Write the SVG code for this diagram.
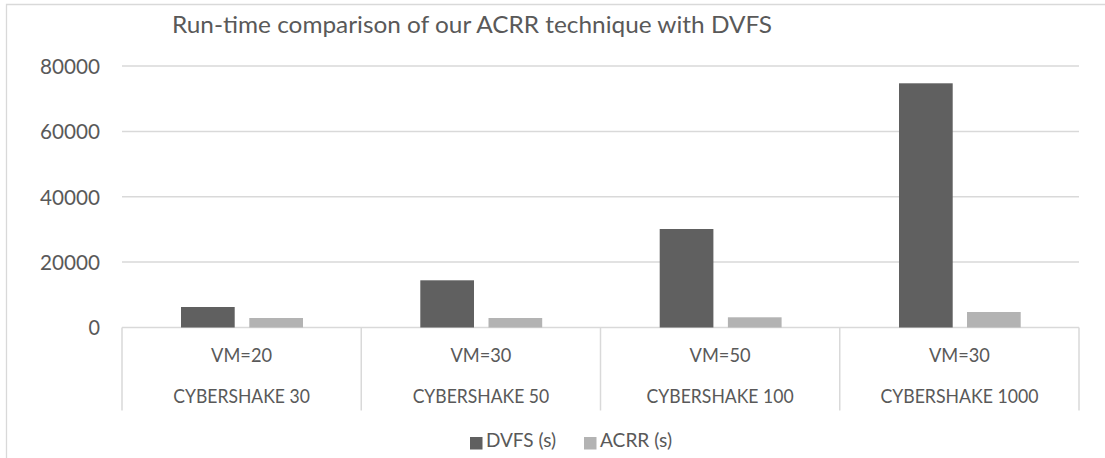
<svg xmlns="http://www.w3.org/2000/svg" width="1105" height="458" viewBox="0 0 1105 458">
  <style>
    .lbl { font-family: Lato, "Open Sans", "Liberation Sans", sans-serif; fill: #595959; }
    .title { font-size: 23px; }
    .ytick { font-size: 21px; text-anchor: end; }
    .xcat { font-size: 18.5px; text-anchor: middle; }
    .leg { font-size: 19px; }
    .grid { stroke: #d9d9d9; stroke-width: 1.5; fill: none; }
    .frame { stroke: #d9d9d9; stroke-width: 1.3; fill: none; }
    .dvfs { fill: #606060; }
    .acrr { fill: #b3b3b3; }
  </style>

  <rect x="0" y="0" width="1105" height="458" fill="#ffffff"/>
  <!-- chart area border (right and bottom edges fall outside the canvas) -->
  <path class="frame" d="M6.5 460 V4.5 H1110"/>

  <text class="lbl title" x="172" y="33" textLength="600" lengthAdjust="spacingAndGlyphs">Run-time comparison of our ACRR technique with DVFS</text>

  <!-- value axis gridlines -->
  <g id="gridlines">
    <line class="grid" x1="122" y1="66" x2="1079" y2="66"/>
    <line class="grid" x1="122" y1="131.4" x2="1079" y2="131.4"/>
    <line class="grid" x1="122" y1="196.75" x2="1079" y2="196.75"/>
    <line class="grid" x1="122" y1="262.1" x2="1079" y2="262.1"/>
    <line class="grid" x1="122" y1="327.5" x2="1079" y2="327.5"/>
  </g>

  <g id="y-axis">
    <text class="lbl ytick" x="100" y="74" textLength="60" lengthAdjust="spacingAndGlyphs">80000</text>
    <text class="lbl ytick" x="100" y="139" textLength="60" lengthAdjust="spacingAndGlyphs">60000</text>
    <text class="lbl ytick" x="100" y="204.5" textLength="60" lengthAdjust="spacingAndGlyphs">40000</text>
    <text class="lbl ytick" x="100" y="269.8" textLength="60" lengthAdjust="spacingAndGlyphs">20000</text>
    <text class="lbl ytick" x="100" y="335" textLength="11.5" lengthAdjust="spacingAndGlyphs">0</text>
  </g>

  <!-- category axis separators -->
  <g id="x-axis">
    <line class="grid" x1="122" y1="327.5" x2="122" y2="410.5"/>
    <line class="grid" x1="361.25" y1="327.5" x2="361.25" y2="410.5"/>
    <line class="grid" x1="600.5" y1="327.5" x2="600.5" y2="410.5"/>
    <line class="grid" x1="839.75" y1="327.5" x2="839.75" y2="410.5"/>
    <line class="grid" x1="1079" y1="327.5" x2="1079" y2="410.5"/>
  </g>

  <g id="cat-cybershake30">
    <rect class="dvfs" x="181" y="307" width="53.7" height="20.5"/>
    <rect class="acrr" x="249.3" y="318" width="53.7" height="9.5"/>
    <text class="lbl xcat" x="241.6" y="362.3" textLength="61" lengthAdjust="spacingAndGlyphs">VM=20</text>
    <text class="lbl xcat" x="241.6" y="403.3" textLength="136.5" lengthAdjust="spacingAndGlyphs">CYBERSHAKE 30</text>
  </g>

  <g id="cat-cybershake50">
    <rect class="dvfs" x="420.3" y="280.3" width="53.7" height="47.2"/>
    <rect class="acrr" x="488.5" y="318" width="53.7" height="9.5"/>
    <text class="lbl xcat" x="480.9" y="362.3" textLength="61" lengthAdjust="spacingAndGlyphs">VM=30</text>
    <text class="lbl xcat" x="480.9" y="403.3" textLength="136.5" lengthAdjust="spacingAndGlyphs">CYBERSHAKE 50</text>
  </g>

  <g id="cat-cybershake100">
    <rect class="dvfs" x="659.7" y="229" width="53.7" height="98.5"/>
    <rect class="acrr" x="727.9" y="317.3" width="53.7" height="10.2"/>
    <text class="lbl xcat" x="720.1" y="362.3" textLength="61" lengthAdjust="spacingAndGlyphs">VM=50</text>
    <text class="lbl xcat" x="720.1" y="403.3" textLength="147" lengthAdjust="spacingAndGlyphs">CYBERSHAKE 100</text>
  </g>

  <g id="cat-cybershake1000">
    <rect class="dvfs" x="899" y="83.3" width="53.7" height="244.2"/>
    <rect class="acrr" x="967" y="312" width="53.7" height="15.5"/>
    <text class="lbl xcat" x="959.4" y="362.3" textLength="61" lengthAdjust="spacingAndGlyphs">VM=30</text>
    <text class="lbl xcat" x="959.4" y="403.3" textLength="158" lengthAdjust="spacingAndGlyphs">CYBERSHAKE 1000</text>
  </g>

  <g id="legend">
    <rect class="dvfs" x="470" y="437" width="12.5" height="12.5"/>
    <text class="lbl leg" x="486" y="447" textLength="70" lengthAdjust="spacingAndGlyphs">DVFS (s)</text>
    <rect class="acrr" x="584" y="437" width="12.5" height="12.5"/>
    <text class="lbl leg" x="600" y="447" textLength="72" lengthAdjust="spacingAndGlyphs">ACRR (s)</text>
  </g>
</svg>
